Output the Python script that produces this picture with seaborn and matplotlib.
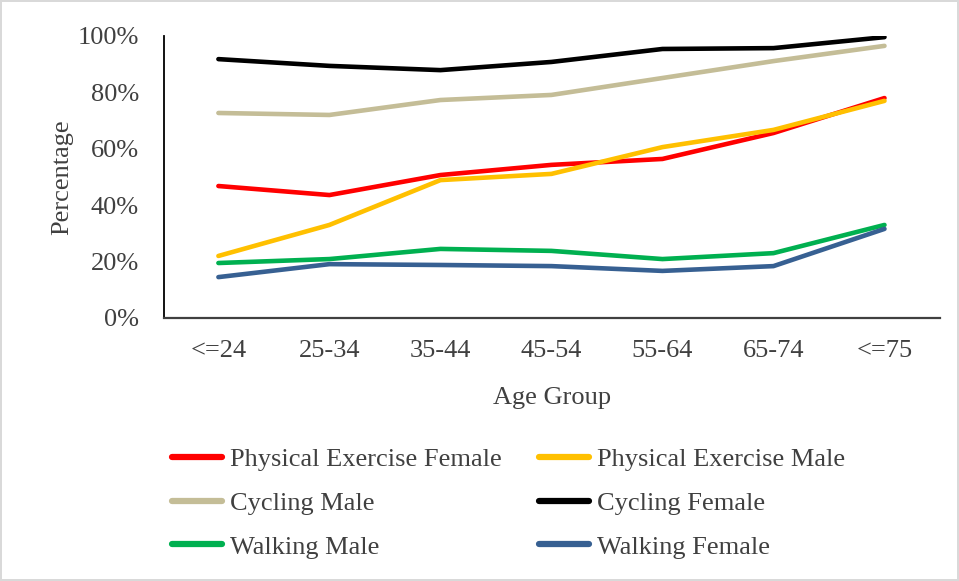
import matplotlib
matplotlib.use("Agg")
import matplotlib.pyplot as plt
import seaborn as sns
import pandas as pd
from matplotlib.ticker import PercentFormatter

age_groups = ["<=24", "25-34", "35-44", "45-54", "55-64", "65-74", "<=75"]
pe_female = [46.8, 43.6, 50.7, 54.3, 56.4, 65.6, 78.0]
pe_male = [22.0, 33.0, 48.9, 51.1, 60.6, 66.7, 77.0]
cycling_male = [72.7, 72.0, 77.3, 79.1, 85.1, 91.1, 96.5]
cycling_female = [91.8, 89.4, 87.9, 90.8, 95.4, 95.7, 99.6]
walking_male = [19.5, 20.9, 24.5, 23.8, 20.9, 23.0, 33.0]
walking_female = [14.5, 19.1, 18.8, 18.4, 16.7, 18.4, 31.6]

series = {
    "Physical Exercise Female": pe_female,
    "Physical Exercise Male": pe_male,
    "Cycling Male": cycling_male,
    "Cycling Female": cycling_female,
    "Walking Male": walking_male,
    "Walking Female": walking_female,
}
colors = {
    "Physical Exercise Female": "#FF0000",
    "Physical Exercise Male": "#FFC000",
    "Cycling Male": "#C4BD97",
    "Cycling Female": "#000000",
    "Walking Male": "#00B050",
    "Walking Female": "#376092",
}

rows = []
for name, vals in series.items():
    for i, (g, v) in enumerate(zip(age_groups, vals)):
        rows.append({"Age Group": g, "pos": i, "Percentage": v, "Series": name})
df = pd.DataFrame(rows)

sns.set_theme(style="white")
plt.rcParams["font.family"] = ["Liberation Serif", "DejaVu Serif"]

FS = 19
fig = plt.figure(figsize=(9.59, 5.81), dpi=100)
fig.patch.set_edgecolor("#D9D9D9")
fig.patch.set_linewidth(1.5)
ax = fig.add_axes([164 / 959, 1 - 318 / 581, (940 - 164) / 959, (318 - 36) / 581])

sns.lineplot(data=df, x="pos", y="Percentage", hue="Series",
             hue_order=list(series.keys()), palette=colors,
             linewidth=3.3, ax=ax, sort=False)

ax.set_xlim(-0.49, 6.5)
ax.set_ylim(0, 100)
ax.set_xticks(range(len(age_groups)))
ax.set_xticklabels(age_groups)
ax.set_yticks([0, 20, 40, 60, 80, 100])
ax.yaxis.set_major_formatter(PercentFormatter(decimals=0))
ax.tick_params(axis="both", length=0, labelsize=FS, colors="#404040")
ax.tick_params(axis="x", pad=16)
ax.tick_params(axis="y", pad=18)
for s in ["top", "right"]:
    ax.spines[s].set_visible(False)
ax.spines["left"].set_color("#000000")
ax.spines["left"].set_linewidth(1.3)
ax.spines["bottom"].set_color("#404040")
ax.spines["bottom"].set_linewidth(1.6)
ax.set_xlabel("Age Group", fontsize=FS, color="#404040", labelpad=18)
ax.set_ylabel("Percentage", fontsize=FS, color="#404040", labelpad=3)

handles, labels = ax.get_legend_handles_labels()
ax.get_legend().remove()
hmap = dict(zip(labels, handles))
order = ["Physical Exercise Female", "Cycling Male", "Walking Male",
         "Physical Exercise Male", "Cycling Female", "Walking Female"]
leg = fig.legend([hmap[o] for o in order], order, ncol=2, frameon=False,
                 loc="upper left", bbox_to_anchor=(172 / 959, 1 - 448 / 581),
                 fontsize=FS, handlelength=1.9, handletextpad=0.3,
                 columnspacing=1.4, labelspacing=0.76, borderaxespad=0,
                 borderpad=0)
for t in leg.get_texts():
    t.set_color("#404040")
for h in leg.legend_handles:
    h.set_linewidth(4.5)

fig.savefig("out.png", dpi=100)
